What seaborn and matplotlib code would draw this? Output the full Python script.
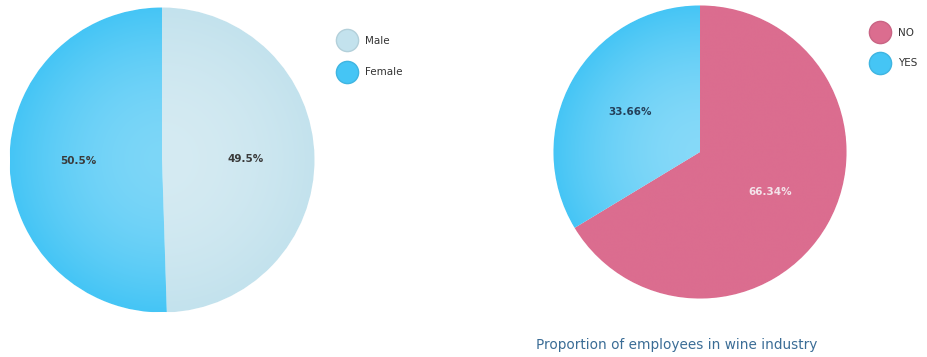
import numpy as np
import matplotlib
matplotlib.use("Agg")
import matplotlib.pyplot as plt
import matplotlib.colors as mcolors
from matplotlib.lines import Line2D
import seaborn as sns

# ---- data ----
gender_labels = ["Male", "Female"]
gender_values = [49.5, 50.5]
wine_labels = ["NO", "YES"]
wine_values = [66.34, 33.66]
title_right = "Proportion of employees in wine industry"

sns.set_theme(style="white")
plt.rcParams["font.family"] = ["DejaVu Sans"]

gender_colors = ["#C3E2ED", "#45C5F5"]
wine_colors = ["#DB6D8F", "#45C5F5"]

fig = plt.figure(figsize=(9.27, 3.57), dpi=100)
W, H = 927, 357


def pie_axes(cx, cy, r):
    return fig.add_axes([(cx - r) / W, (H - cy - r) / H, 2 * r / W, 2 * r / H])


def shade(ax, wedges, colors, lighten):
    n = 300
    xs = np.linspace(-1, 1, n)
    X, Y = np.meshgrid(xs, xs)
    R = np.clip(np.sqrt(X ** 2 + Y ** 2), 0, 1)
    for w, c, lf in zip(wedges, colors, lighten):
        base = np.array(mcolors.to_rgb(c))
        light = base + (1 - base) * lf
        t = (R ** 1.8)[..., None]
        img = light * (1 - t) + base * t
        im = ax.imshow(img, extent=(-1, 1, -1, 1), origin="lower", zorder=w.get_zorder() + 0.1,
                       interpolation="bilinear")
        im.set_clip_path(w)


def draw_pie(ax, values, colors, fmt, txtcolors, lighten):
    wedges, texts, autotexts = ax.pie(
        values, colors=colors, startangle=90, counterclock=False,
        autopct=fmt, pctdistance=0.55, radius=1.0,
        wedgeprops=dict(edgecolor="#FFFFFF", linewidth=0.8),
        textprops=dict(fontsize=7.5, fontweight="bold"))
    shade(ax, wedges, colors, lighten)
    for t, c in zip(autotexts, txtcolors):
        t.set_color(c)
        t.set_zorder(10)
    ax.set_xlim(-1.01, 1.01)
    ax.set_ylim(-1.01, 1.01)
    ax.set_aspect("equal")
    ax.axis("off")
    return wedges


ax1 = pie_axes(162, 160, 154)
draw_pie(ax1, gender_values, gender_colors, lambda p: f"{p:.1f}%",
         ["#3A3A3A", "#3A3A3A"], [0.3, 0.3])

ax2 = pie_axes(700, 152, 148)
draw_pie(ax2, wine_values, wine_colors, lambda p: f"{p:.2f}%",
         ["#F3E3EA", "#24405A"], [0.0, 0.35])


def legend(labels, colors, x, y, spacing):
    handles = [Line2D([0], [0], marker="o", linestyle="", markersize=16,
                      markerfacecolor=c, markeredgecolor=mcolors.to_hex(np.array(mcolors.to_rgb(c)) * 0.92),
                      markeredgewidth=1.0)
               for c in colors]
    fig.legend(handles, labels, loc="upper left", bbox_to_anchor=(x / W, 1 - y / H),
               frameon=False, fontsize=7.5, borderpad=0, borderaxespad=0,
               handlelength=1.2, handletextpad=1.1, labelspacing=spacing,
               labelcolor="#333333")


legend(gender_labels, gender_colors, 341, 36, 2.05)
legend(wine_labels, wine_colors, 874, 28, 1.95)

fig.text(677 / W, 1 - 345 / H, title_right, ha="center", va="center",
         fontsize=9.8, color="#3B6D96")

fig.savefig("out.png", dpi=100)
